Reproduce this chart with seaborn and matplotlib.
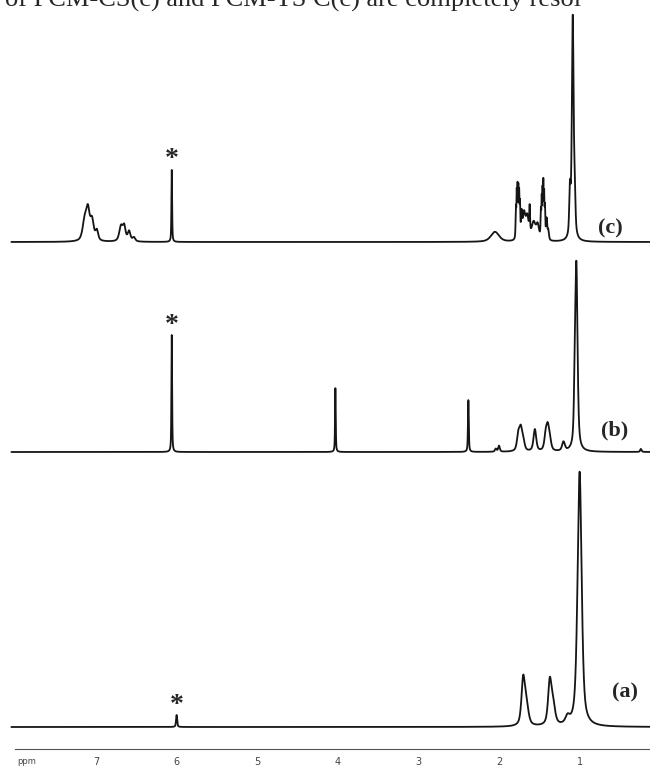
import numpy as np
import matplotlib
matplotlib.use("Agg")
import matplotlib.pyplot as plt
import seaborn as sns
import pandas as pd

sns.set_style("white")
plt.rcParams['font.family'] = ['Liberation Serif', 'DejaVu Serif']

# peaks: shift (ppm), height above baseline, half width (ppm)
c_shift = [7.14, 7.10, 7.05, 6.99, 6.69, 6.65, 6.59, 6.53, 6.06, 2.05,
           1.79, 1.78, 1.77, 1.76, 1.75, 1.74, 1.72, 1.69, 1.65, 1.62, 1.57, 1.52,
           1.48, 1.47, 1.46, 1.45, 1.44, 1.43, 1.41, 1.39,
           1.12, 1.085, 1.06]
c_height = [20, 28, 20, 10, 15, 14, 10, 4, 72, 10,
            30, 42, 48, 46, 40, 32, 22, 26, 22, 26, 18, 14,
            26, 36, 44, 52, 40, 30, 20, 10,
            45, 222, 35]
c_width = [0.03, 0.025, 0.025, 0.02, 0.025, 0.02, 0.02, 0.02, 0.005, 0.06,
           0.005, 0.004, 0.004, 0.004, 0.004, 0.005, 0.008, 0.02, 0.02, 0.006, 0.03, 0.02,
           0.005, 0.004, 0.004, 0.004, 0.004, 0.005, 0.008, 0.01,
           0.01, 0.013, 0.01]

b_shift = [6.06, 4.03, 2.38, 2.04, 2.00, 1.76, 1.73, 1.70, 1.555,
           1.42, 1.395, 1.37, 1.20, 1.06, 1.04, 0.24]
b_height = [117, 64, 52, 3, 6, 16, 20, 10, 22,
            15, 20, 10, 9, 40, 182, 3]
b_width = [0.005, 0.005, 0.006, 0.012, 0.012, 0.02, 0.02, 0.02, 0.02,
           0.02, 0.02, 0.02, 0.02, 0.012, 0.017, 0.01]

a_shift = [6.00, 1.70, 1.66, 1.37, 1.33, 1.15, 1.00]
a_height = [12, 45, 20, 42, 20, 7, 255]
a_width = [0.008, 0.025, 0.03, 0.025, 0.03, 0.03, 0.03]

spectra = {
    'c': (c_shift, c_height, c_width),
    'b': (b_shift, b_height, b_width),
    'a': (a_shift, a_height, a_width),
}
star_pos = {'c': 6.06, 'b': 6.06, 'a': 6.00}


def profile(x, shifts, heights, widths, eta=0.6):
    y = np.zeros_like(x)
    for s, h, w in zip(shifts, heights, widths):
        lor = w ** 2 / ((x - s) ** 2 + w ** 2)
        gau = np.exp(-np.log(2) * ((x - s) / w) ** 2)
        y += h * (eta * lor + (1 - eta) * gau)
    return y


ppm = np.linspace(8.05, 0.13, 9000)

W, H = 650, 768
fig = plt.figure(figsize=(6.5, 7.68), dpi=100)
x_left = 7 + 96 / 80.6
x_right = 7 - (W - 96) / 80.6

# pixel layout: (top, baseline, bottom) for each trace
layout = {'c': (0, 242, 250), 'b': (250, 452, 460), 'a': (460, 727, 740)}
label_xy = {'c': (0.62, 14), 'b': (0.56, 22), 'a': (0.44, 35)}
star_y = {'c': 83, 'b': 127, 'a': 22}

for key, (top, base, bot) in layout.items():
    ax = fig.add_axes([0, 1 - bot / H, 1, (bot - top) / H])
    shifts, heights, widths = spectra[key]
    df = pd.DataFrame({'ppm': ppm, 'I': profile(ppm, shifts, heights, widths)})
    sns.lineplot(data=df, x='ppm', y='I', ax=ax, color='#151515', lw=1.3,
                 estimator=None, sort=False)
    ax.set_xlim(x_left, x_right)
    ax.set_ylim(-(bot - base), base - top)
    ax.axis('off')
    lx, ly = label_xy[key]
    ax.text(lx, ly, f'({key})', ha='center', va='center', fontsize=16,
            fontweight='bold')
    ax.text(star_pos[key], star_y[key], '*', ha='center', va='center',
            fontsize=20, fontweight='bold')

# ppm scale at the bottom
axs = fig.add_axes([0, 1 - 749 / H, 1, 0.0001])
axs.set_xlim(x_left, x_right)
for sp in ['left', 'right', 'top']:
    axs.spines[sp].set_visible(False)
axs.spines['bottom'].set_bounds(8.0, x_right)
axs.spines['bottom'].set_color('#555555')
axs.spines['bottom'].set_linewidth(0.8)
axs.set_yticks([])
axs.set_xticks([7, 6, 5, 4, 3, 2, 1])
axs.set_xticklabels(['7', '6', '5', '4', '3', '2', '1'],
                    fontsize=7, color='#444444', family='DejaVu Sans')
axs.set_xticks(np.arange(8.0, 0.1, -0.1), minor=True)
axs.tick_params(axis='x', which='major', length=5, width=0.8,
                color='#555555', pad=1)
axs.tick_params(axis='x', which='minor', length=3, width=0.6,
                color='#777777')
fig.text(17 / W, 1 - 762 / H, 'ppm', fontsize=6, color='#444444',
         family='DejaVu Sans', va='center')

# caption line of the page above the figure, cut by the top edge as in the source
fig.text(5 / W, 1 - 7 / H, 'of PCM-CS(c) and PCM-TS C(c) are completely resol',
         fontsize=19, va='baseline', ha='left')

fig.savefig('out.png', dpi=100, facecolor='white')
